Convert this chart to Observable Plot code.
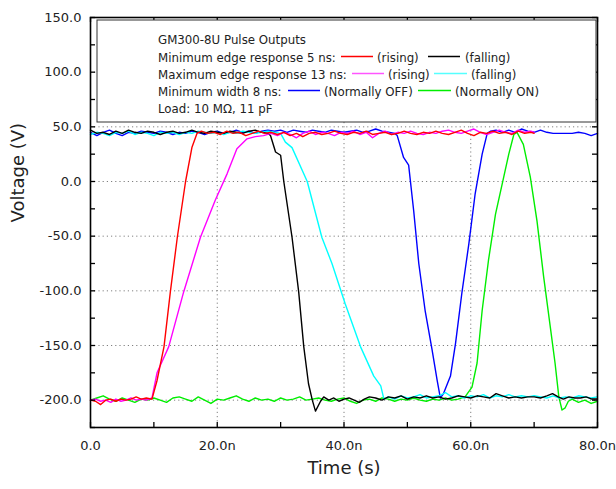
<!DOCTYPE html>
<html><head><meta charset="utf-8">
<script src="https://cdn.jsdelivr.net/npm/d3@7"></script>
<script src="https://cdn.jsdelivr.net/npm/@observablehq/plot@0.6"></script>
<style>body{margin:0;background:#fff} svg{display:block}</style>
</head><body><div id="chart"></div>
<script>
// [time (ns), voltage (V)]
const red = [[0,-200],[0.8,-201],[1.6,-204],[2.4,-200],[3.2,-199],[4,-201],[4.8,-199],[5.6,-200],[6.4,-199],[7.2,-197],[8,-199],[8.8,-198],[9.7,-199],[10.5,-182],[11.6,-151],[12.6,-101],[13.7,-51],[15,0],[16,31],[16.8,44],[17.5,46],[18.5,44],[19.5,45],[20.5,43],[21.5,46],[22.5,44],[23.5,45],[24.5,42],[25.5,44],[26.5,46],[27.5,44],[28.5,45],[29.5,43],[30.5,45],[31.5,42],[32.5,44],[33.5,41],[34.5,44],[35.5,45],[36.5,43],[37.5,44],[38.5,46],[39.5,44],[40.5,43],[41.5,45],[42.5,44],[43.5,46],[44.5,43],[45.5,44],[46.5,45],[47.5,43],[48.5,44],[49.5,46],[50.5,44],[51.5,43],[52.5,45],[53.5,44],[54.5,46],[55.5,44],[56.5,43],[57.5,45],[58.5,47],[59.5,44],[60.5,42],[61.5,45],[62.5,44],[63.5,46],[64.5,44],[65.5,45],[66.5,43],[67.5,46],[68.5,44],[69.5,45],[70,44]];
const magenta = [[0,-200],[0.8,-199],[1.6,-201],[2.4,-200],[3.2,-202],[4,-199],[4.8,-201],[5.6,-200],[6.4,-198],[7.2,-200],[8,-199],[8.8,-200],[9.7,-198],[10.5,-175],[12.35,-151],[14.7,-101],[17.35,-51],[19.7,-17],[21.55,7],[23.1,30],[24.7,39],[26,41],[27.3,42],[28.5,44],[29.5,42],[30.5,45],[31.5,43],[32.5,40],[33.5,44],[34.5,46],[35.5,43],[36.5,45],[37.5,44],[38.5,42],[39.5,45],[40.5,44],[41.5,46],[42.5,43],[43.5,45],[44.5,40],[45.5,44],[46.5,46],[47.5,43],[48.5,45],[49.5,44],[50.5,46],[51.5,44],[52.5,43],[53.5,45],[54.5,44],[55.5,46],[56.5,47],[57.5,45],[58.5,44],[59.5,46],[60.5,48],[61.5,45],[62.5,43],[63.5,45],[64.5,47],[65.5,45],[66.5,44],[67.5,47],[68.5,45],[69.5,46],[70,45]];
const black = [[0,47],[1,44],[2,45],[3,43],[4,46],[5,44],[6,47],[7,45],[8,44],[9,46],[10,45],[11,43],[12,45],[13,46],[14,44],[15,45],[16,47],[17,45],[18,44],[19,46],[20,45],[21,44],[22,46],[23,45],[24,44],[25,46],[26,47],[27,45],[28,44],[28.4,42],[29.2,27],[30,24],[30.5,0],[31.8,-51],[32.85,-101],[33.65,-151],[34.4,-185],[35,-200],[35.5,-210],[36.3,-201],[36.8,-197],[37.6,-200],[38.4,-198],[39.2,-201],[40,-199],[40.8,-198],[41.6,-200],[42.4,-202],[43.2,-199],[44,-197],[45,-198],[46,-200],[47,-197],[48,-198],[49,-196],[50,-199],[51,-197],[52,-198],[53,-196],[54,-198],[55,-197],[56,-199],[57,-198],[58,-196],[59,-197],[60,-198],[61,-196],[62,-197],[63,-198],[64,-194],[65,-196],[66,-198],[67,-197],[68,-198],[69,-197],[70,-197],[71,-198],[72,-196],[72.9,-194],[73.8,-197],[74.6,-199],[75.5,-197],[76.4,-198],[77.3,-198],[78.2,-197],[79.1,-199],[80,-199]];
const cyan = [[0,43],[1,45],[2,44],[3,42],[4,45],[5,44],[6,46],[7,43],[8,45],[9,44],[10,42],[11,45],[12,44],[13,45],[14,43],[15,45],[16,44],[17,46],[18,45],[19,44],[20,45],[21,43],[22,45],[23,44],[24,46],[25,45],[26,44],[27,45],[28,46],[29,45],[30,44],[30.75,36],[31.8,31],[34.2,0],[36.5,-51],[38.1,-75],[40.2,-112],[42.6,-151],[44.7,-178],[45.8,-187],[46.3,-199],[47,-197],[48,-199],[49,-196],[50,-198],[51,-197],[52,-195],[53,-198],[54,-197],[55,-196],[56,-193],[57,-197],[58,-196],[59,-198],[60,-196],[61,-197],[62,-195],[63,-198],[64,-196],[65,-197],[66,-195],[67,-197],[68,-196],[69,-197],[70,-196],[71,-197],[72,-198],[73,-196],[74,-198],[75,-197],[76,-198],[77,-196],[78,-197],[79,-198],[80,-197]];
const blue = [[0,45],[1,42],[2,45],[3,47],[4,44],[5,42],[6,45],[7,44],[8,46],[9,45],[10,44],[11,46],[12,45],[13,43],[14,45],[15,44],[16,46],[17,45],[18,43],[19,45],[20,46],[21,44],[22,45],[23,47],[24,45],[25,46],[26,44],[27,46],[28,47],[29,46],[30,47],[31,45],[32,47],[33,46],[34,45],[35,47],[36,46],[37,45],[38,47],[39,46],[40,45],[41,46],[42,47],[43,45],[44,46],[45,48],[46,46],[47,45],[48,44],[48.4,42],[49.4,22],[50.2,15],[51,-27],[51.8,-75],[52.8,-118],[53.9,-154],[54.7,-182],[55.2,-198],[55.7,-194],[56.8,-178],[57.6,-148],[58.6,-102],[59.7,-57],[60.7,-11],[61.8,25],[62.6,44],[63.1,46],[64,47],[65,45],[66,47],[67,45],[68,48],[69,46],[70,45],[71,47],[72,45],[73,44],[74,44],[75,44],[76,44],[77,45],[78,44],[79,42],[80,44]];
const green = [[0,-200],[1,-198],[2,-196],[3,-199],[4,-201],[5,-198],[6,-200],[7,-202],[8,-199],[9,-200],[10,-198],[11,-200],[12,-202],[13,-198],[14,-197],[15,-199],[16,-201],[17,-197],[18,-200],[19,-203],[20,-199],[21,-200],[22,-198],[23,-196],[24,-199],[25,-201],[26,-198],[27,-200],[28,-199],[29,-201],[30,-198],[31,-200],[32,-199],[33,-197],[34,-200],[35,-199],[36,-198],[37,-200],[38,-201],[39,-199],[40,-198],[41,-201],[42,-203],[43,-200],[44,-199],[45,-201],[46,-198],[47,-199],[48,-201],[49,-199],[50,-200],[51,-198],[52,-200],[53,-201],[54,-199],[55,-200],[56,-198],[57,-200],[58,-199],[59.1,-197],[60.2,-188],[61,-166],[61.8,-118],[62.8,-72],[63.9,-30],[65.2,4],[66,25],[66.8,43],[67.3,45],[68.3,34],[69.4,4],[70.45,-36],[71.5,-87],[72.55,-133],[73.3,-166],[73.9,-197],[74.4,-209],[74.9,-207],[75.4,-201],[76,-199],[77,-202],[78,-200],[79,-203],[80,-201]];

const xTicks = [0, 20, 40, 60, 80];
const yTicks = [150, 100, 50, 0, -50, -100, -150, -200];
const xGrid = [20, 40, 60];
const yGrid = [100, 50, 0, -50, -100, -150, -200];
const xMinor = d3.range(0, 81, 10);
const yMinor = d3.range(-225, 151, 25);

const series = [
  {key: "green", color: "#00ee00", data: green},
  {key: "blue", color: "#0000ff", data: blue},
  {key: "cyan", color: "#00ffff", data: cyan},
  {key: "black", color: "#000000", data: black},
  {key: "magenta", color: "#ff00ff", data: magenta},
  {key: "red", color: "#ff0000", data: red}
];

const W = 616, H = 489, mL = 90, mR = 19, mT = 17, mB = 62;
const xDom = [0, 80], yDom = [-225, 150];
const tickLen = 5;
const dxU = tickLen * (xDom[1] - xDom[0]) / (W - mL - mR);
const dyU = tickLen * (yDom[1] - yDom[0]) / (H - mT - mB);

const plot = Plot.plot({
  width: W, height: H,
  marginLeft: mL, marginRight: mR, marginTop: mT, marginBottom: mB,
  x: {domain: xDom},
  y: {domain: yDom},
  style: {fontFamily: "DejaVu Sans", background: "white", color: "#222"},
  marks: [
    Plot.ruleX(xGrid, {stroke: "#808080", strokeDasharray: "1.2,3", strokeWidth: 1}),
    Plot.ruleY(yGrid, {stroke: "#808080", strokeDasharray: "1.2,3", strokeWidth: 1}),
    ...series.map(s => Plot.line(s.data, {x: d => d[0], y: d => d[1], stroke: s.color, strokeWidth: 1.4})),
    Plot.ruleX(xMinor, {y1: yDom[0], y2: yDom[0] + dyU, stroke: "black", strokeWidth: 1.3}),
    Plot.ruleX(xMinor, {y1: yDom[1], y2: yDom[1] - dyU, stroke: "black", strokeWidth: 1.3}),
    Plot.ruleY(yMinor, {x1: xDom[0], x2: xDom[0] + dxU, stroke: "black", strokeWidth: 1.3}),
    Plot.ruleY(yMinor, {x1: xDom[1], x2: xDom[1] - dxU, stroke: "black", strokeWidth: 1.3}),
    Plot.frame({stroke: "black", strokeWidth: 1.6}),
    Plot.axisX(xTicks, {tickSize: 0, tickPadding: 13, fontSize: 13, label: null,
      tickFormat: d => d === 0 ? "0.0" : d.toFixed(1) + "n"}),
    Plot.axisY(yTicks, {tickSize: 0, tickPadding: 9, fontSize: 13, label: null,
      tickFormat: d => d.toFixed(1)}),
    Plot.text(["Time (s)"], {frameAnchor: "bottom", dy: 46, fontSize: 18, fill: "#222"}),
    Plot.text(["Voltage (V)"], {frameAnchor: "left", dx: -72, rotate: -90, fontSize: 18, fill: "#222"})
  ]
});
document.getElementById("chart").appendChild(plot);

// Legend box (inside plot, top)
const svg = d3.select(plot);
const g = svg.append("g").attr("font-family", "DejaVu Sans").attr("font-size", 11.8)
  .attr("fill", "#222").attr("text-anchor", "start");
g.append("rect").attr("x", 97).attr("y", 20).attr("width", 499).attr("height", 102)
  .attr("fill", "white").attr("stroke", "#333").attr("stroke-width", 1);
const lx = 158;
const rows = [
  {y: 40, parts: [{t: "GM300-8U Pulse Outputs", x: lx}]},
  {y: 57.5, parts: [{t: "Minimum edge response 5 ns:", x: lx}, {line: "#ff0000", x1: 341, x2: 373}, {t: "(rising)", x: 377},
                    {line: "#000000", x1: 428, x2: 460}, {t: "(falling)", x: 465}]},
  {y: 74.5, parts: [{t: "Maximum edge response 13 ns:", x: lx}, {line: "#ff55ff", x1: 352, x2: 384}, {t: "(rising)", x: 388},
                    {line: "#55ffff", x1: 434, x2: 467}, {t: "(falling)", x: 471}]},
  {y: 91.5, parts: [{t: "Minimum width 8 ns:", x: lx}, {line: "#0000ff", x1: 288, x2: 320}, {t: "(Normally OFF)", x: 324},
                    {line: "#00ee00", x1: 418, x2: 451}, {t: "(Normally ON)", x: 455}]},
  {y: 109, parts: [{t: "Load: 10 M\u03A9, 11 pF", x: lx}]}
];
for (const r of rows) {
  for (const p of r.parts) {
    if (p.t) g.append("text").attr("x", p.x).attr("y", r.y).attr("dy", "0.35em").attr("text-anchor", "start").text(p.t);
    else g.append("line").attr("x1", p.x1).attr("x2", p.x2).attr("y1", r.y - 1).attr("y2", r.y - 1)
      .attr("stroke", p.line).attr("stroke-width", 1.5);
  }
}
</script>
</body></html>
